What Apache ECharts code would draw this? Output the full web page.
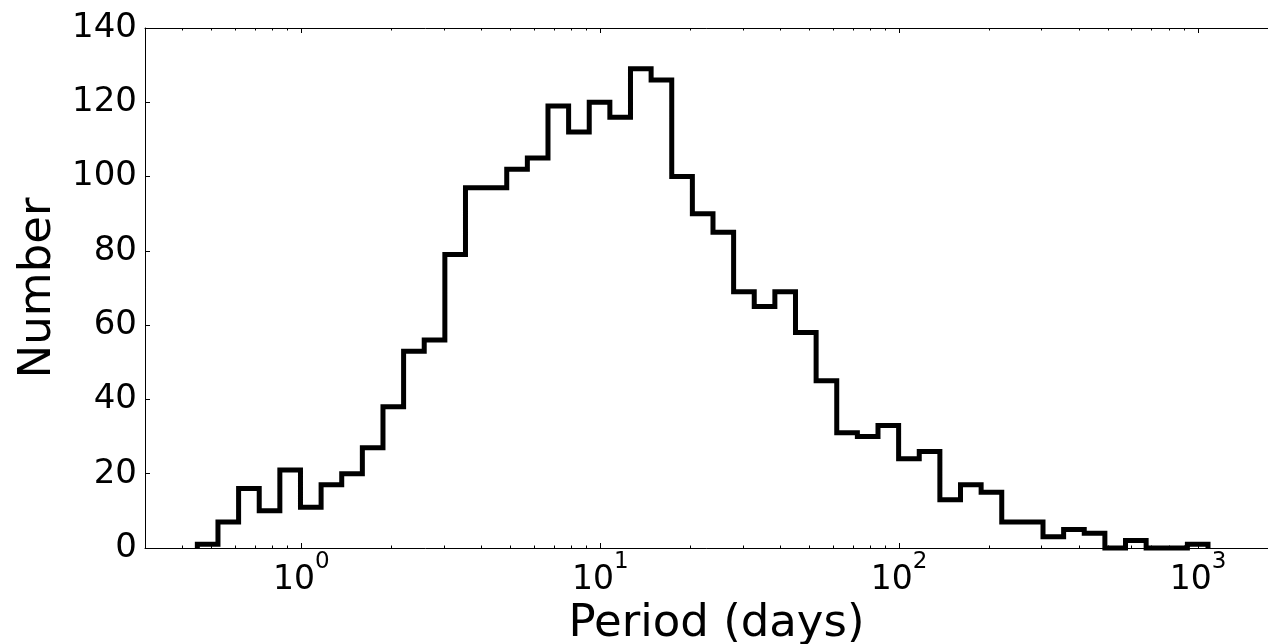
<!DOCTYPE html>
<html><head><meta charset="utf-8">
<script src="https://cdn.jsdelivr.net/npm/echarts@6/dist/echarts.min.js"></script>
<style>html,body{margin:0;padding:0;background:#fff}#c{width:1268px;height:644px}</style>
</head><body><div id="c"></div>
<script>
// Histogram of periods (log-spaced bins)
const binStart = 0.449;   // left edge of first bin (days)
const binEnd = 1080;      // right edge of last bin (days)
const counts = [1,7,16,10,21,11,17,20,27,38,53,56,79,97,97,102,105,119,112,120,116,129,126,100,90,85,69,65,69,58,45,31,30,33,24,26,13,17,15,7,7,3,5,4,0,2,0,0,1];
const xMajorTicks = [1,10,100,1000];
const xMinorTicks = [0.4,0.5,0.6,0.7,0.8,0.9,2,3,4,5,6,7,8,9,20,30,40,50,60,70,80,90,200,300,400,500,600,700,800,900];
const yTicks = [0,20,40,60,80,100,120,140];

const FONT = 'DejaVu Sans';
const nb = counts.length;
const l0 = Math.log10(binStart), l1 = Math.log10(binEnd);
const edges = [];
for (let i = 0; i <= nb; i++) edges.push(Math.pow(10, l0 + (l1 - l0) * i / nb));
const pts = [[edges[0], 0]];
for (let i = 0; i < nb; i++) { pts.push([edges[i], counts[i]]); pts.push([edges[i+1], counts[i]]); }
pts.push([edges[nb], 0]);

const spine = {color:'#000', width:1};
function xAx(pos, vals, len, major) {
  return {
    type:'log', logBase:10, min:0.3, max:2000, position:pos, gridIndex:0,
    axisLine:{show: major, lineStyle: spine, onZero:false},
    axisTick:{show:true, inside:true, length:len, customValues: vals, lineStyle: spine},
    axisLabel: (major && pos === 'bottom') ? {
      show:true, customValues: vals, margin: 3,
      formatter: v => '{b|10}{s|' + Math.round(Math.log10(v)) + '}',
      rich: {
        b:{fontSize:33, fontFamily:FONT, color:'#000', verticalAlign:'bottom', lineHeight:46},
        s:{fontSize:23, fontFamily:FONT, color:'#000', verticalAlign:'top', lineHeight:46}
      }
    } : {show:false},
    splitLine:{show:false}, minorTick:{show:false},
    name: (major && pos === 'bottom') ? 'Period (days)' : '',
    nameLocation:'middle', nameGap:51,
    nameTextStyle:{fontSize:45, fontFamily:FONT, color:'#000'}
  };
}

const chart = echarts.init(document.getElementById('c'), null, {renderer:'canvas'});
chart.setOption({
  animation:false,
  backgroundColor:'#fff',
  grid:{left:145, top:28, right:-20, bottom:96, containLabel:false, outerBoundsMode:'none'},
  xAxis:[ xAx('bottom', xMajorTicks, 5, true), xAx('bottom', xMinorTicks, 2.5, false),
          xAx('top', xMajorTicks, 5, true), xAx('top', xMinorTicks, 2.5, false) ],
  yAxis:{
    type:'value', min:0, max:140, interval:20,
    axisLine:{show:true, lineStyle: spine},
    axisTick:{show:true, inside:true, length:5, lineStyle: spine},
    axisLabel:{fontSize:34, fontFamily:FONT, color:'#000', margin:8},
    splitLine:{show:false},
    name:'Number', nameLocation:'middle', nameGap:82,
    nameTextStyle:{fontSize:45, fontFamily:FONT, color:'#000'}
  },
  series:[{
    type:'line', xAxisIndex:0, yAxisIndex:0, data: pts, symbol:'none', clip:false,
    lineStyle:{color:'#000', width:5, join:'miter', cap:'butt'}
  }]
});
</script></body></html>
